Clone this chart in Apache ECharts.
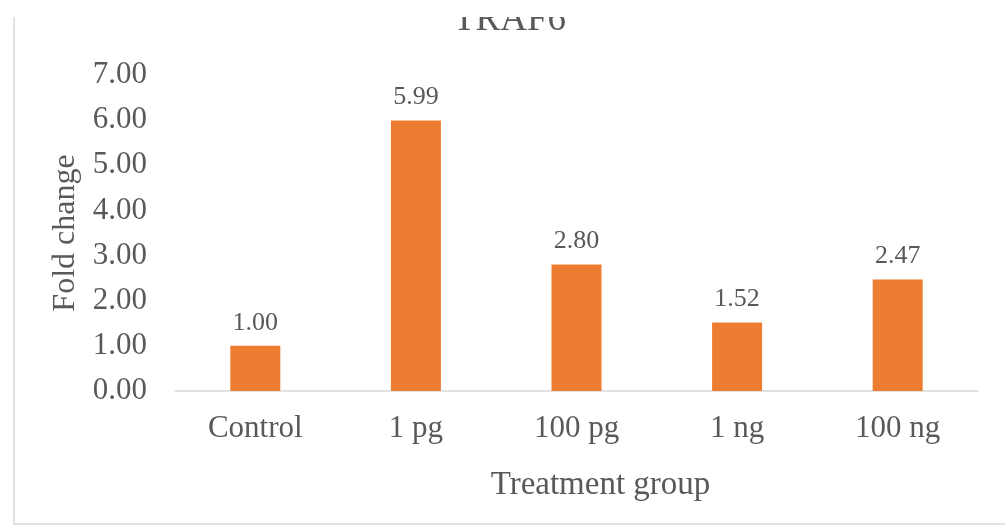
<!DOCTYPE html>
<html>
<head>
<meta charset="utf-8">
<script src="https://cdn.jsdelivr.net/npm/echarts@6/dist/echarts.min.js"></script>
<style>html,body{margin:0;padding:0;background:#fff;}#c{width:1005px;height:529px;}</style>
</head>
<body>
<div id="c"></div>
<script>
const categories = ['Control', '1 pg', '100 pg', '1 ng', '100 ng'];
const foldChange = [1.00, 5.99, 2.80, 1.52, 2.47];
const yTicks = [0, 1, 2, 3, 4, 5, 6, 7];

const FONT = '"Liberation Serif", "Times New Roman", serif';
const TXT = '#595959';
const chart = echarts.init(document.getElementById('c'));
chart.setOption({
  animation: false,
  backgroundColor: '#fff',
  title: {
    text: 'TRAF6', left: 448, top: -3,
    textStyle: { fontFamily: FONT, fontSize: 37, fontWeight: 'normal', color: TXT }
  },
  grid: { left: 175, right: 27, top: 75, bottom: 138 },
  xAxis: {
    type: 'category', data: categories,
    name: 'Treatment group', nameLocation: 'middle', nameGap: 78,
    nameTextStyle: { fontFamily: FONT, fontSize: 33, color: TXT, padding: [0, 0, 0, 48] },
    axisLine: { lineStyle: { color: '#d9d9d9', width: 1.5 } },
    axisTick: { show: false },
    axisLabel: { fontFamily: FONT, fontSize: 31, color: TXT, margin: 22 }
  },
  yAxis: {
    type: 'value', min: yTicks[0], max: yTicks[yTicks.length - 1], interval: 1,
    name: 'Fold change', nameLocation: 'middle', nameGap: 93,
    nameTextStyle: { fontFamily: FONT, fontSize: 32, color: TXT },
    axisLine: { show: false }, axisTick: { show: false },
    splitLine: { show: false },
    axisLabel: { fontFamily: FONT, fontSize: 31, color: TXT, margin: 28,
      formatter: v => v.toFixed(2) }
  },
  series: [{
    type: 'bar', data: foldChange, barWidth: 50,
    itemStyle: { color: '#ED7D31' },
    label: { show: true, position: 'top', distance: 10,
      fontFamily: FONT, fontSize: 26, color: TXT,
      formatter: p => p.value.toFixed(2) }
  }],
  graphic: [
    { type: 'rect', z: 100, shape: { x: 14, y: -20, width: 1100, height: 544 },
      style: { fill: 'none', stroke: '#d9d9d9', lineWidth: 1.5 } },
    { type: 'rect', z: 101, shape: { x: 0, y: 0, width: 1005, height: 17 }, style: { fill: '#fff' } }
  ]
});
</script>
</body>
</html>
